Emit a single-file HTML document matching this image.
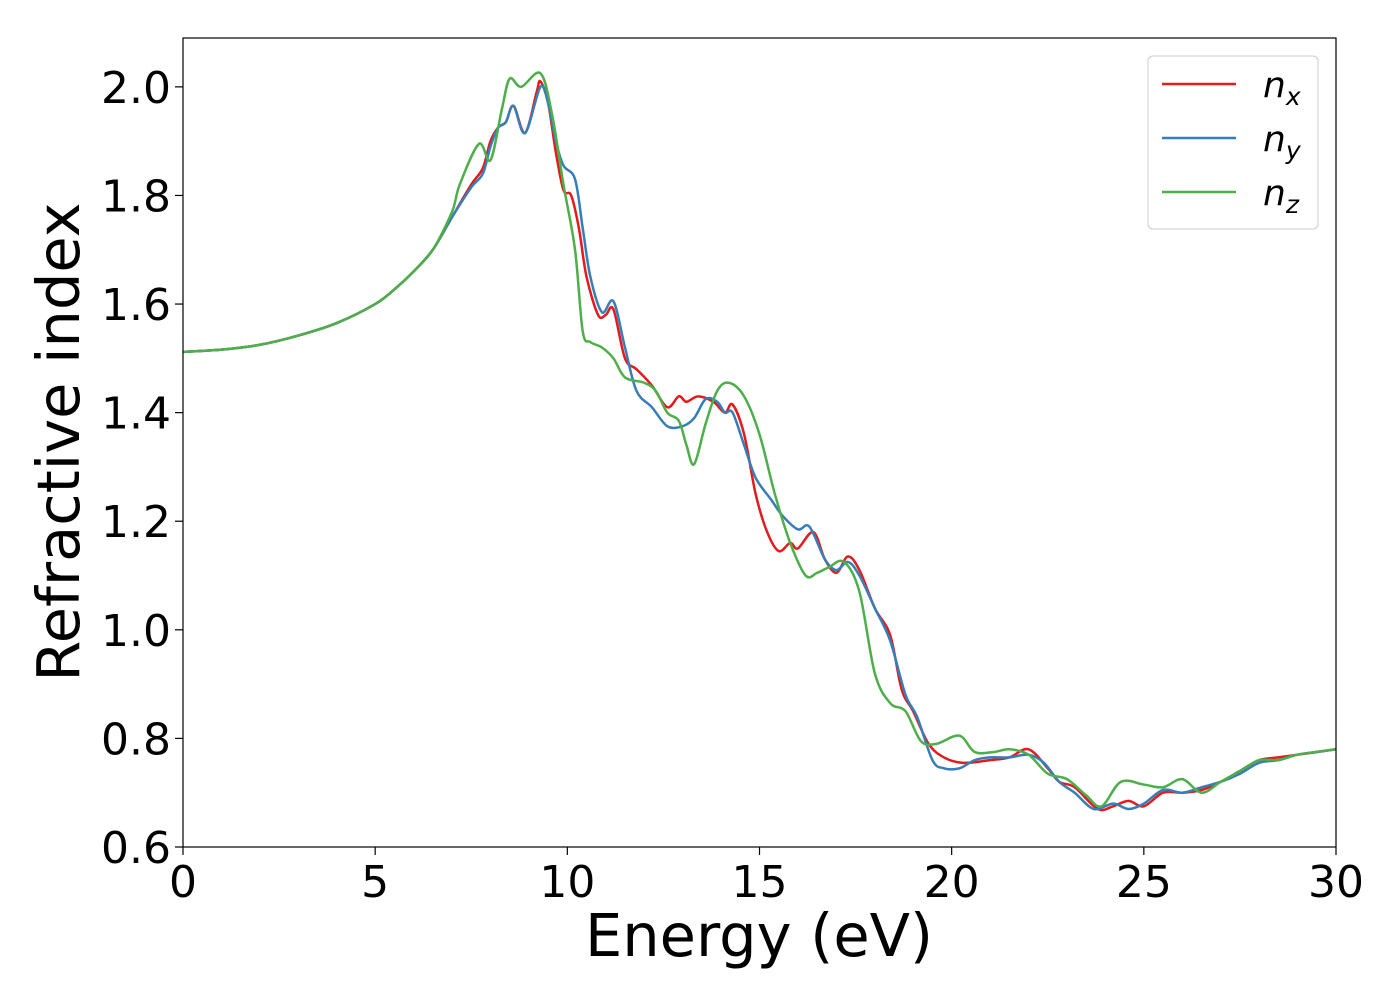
<!DOCTYPE html>
<html><head><meta charset="utf-8"><style>
body{margin:0;background:#fff}
svg text{font-family:"DejaVu Sans","Liberation Sans",sans-serif}
</style></head><body>
<svg id="chart" width="1400" height="1000" viewBox="0 0 1400 1000">
<rect width="1400" height="1000" fill="#fff"/>
<g id="series"></g>
<g id="axes"></g>
<rect x="183" y="38" width="1153" height="809" fill="none" stroke="#000" stroke-width="1.2"/>
<text x="759" y="956" font-size="59" text-anchor="middle">Energy (eV)</text>
<text transform="translate(79,442) rotate(-90)" font-size="59" text-anchor="middle">Refractive index</text>
<g>
<rect x="1148" y="56" width="170" height="173" rx="5" fill="#fff" stroke="#ccc" stroke-width="1"/>
<line x1="1162" y1="84" x2="1236" y2="84" stroke="#e41a1c" stroke-width="2.5"/>
<text x="1263" y="97" font-size="36" font-style="italic">n<tspan font-size="25" dy="8">x</tspan></text>
<line x1="1162" y1="138" x2="1236" y2="138" stroke="#377eb8" stroke-width="2.5"/>
<text x="1263" y="151" font-size="36" font-style="italic">n<tspan font-size="25" dy="8">y</tspan></text>
<line x1="1162" y1="192" x2="1236" y2="192" stroke="#4daf4a" stroke-width="2.5"/>
<text x="1263" y="205" font-size="36" font-style="italic">n<tspan font-size="25" dy="8">z</tspan></text>
</g>
</svg>
<script>
const xTicks=[0,5,10,15,20,25,30];
const yTicks=[0.6,0.8,1.0,1.2,1.4,1.6,1.8,2.0];
const nxE=[0,1,2,3,4,5,5.5,6,6.5,7,7.5,7.8,8.0,8.2,8.4,8.6,8.9,9.2,9.3,9.5,9.7,9.9,10.1,10.3,10.5,10.8,11.0,11.2,11.5,11.8,12.2,12.6,12.9,13.1,13.4,13.8,14.1,14.3,14.6,14.9,15.2,15.5,15.8,16.0,16.4,16.7,17.0,17.3,17.6,18.0,18.4,18.7,19.0,19.4,19.8,20.3,21,21.5,22,22.5,22.8,23.2,23.8,24.2,24.6,25.0,25.5,26.0,26.5,27,27.5,28,28.5,29,29.5,30];
const nxV=[1.512,1.516,1.525,1.542,1.565,1.60,1.627,1.66,1.70,1.76,1.82,1.85,1.90,1.925,1.935,1.965,1.915,1.99,2.01,1.97,1.88,1.81,1.80,1.74,1.65,1.58,1.58,1.59,1.50,1.48,1.45,1.41,1.43,1.42,1.43,1.42,1.40,1.415,1.36,1.25,1.18,1.145,1.16,1.15,1.18,1.13,1.105,1.135,1.11,1.04,0.99,0.89,0.85,0.79,0.765,0.755,0.76,0.765,0.78,0.745,0.72,0.71,0.67,0.675,0.685,0.675,0.70,0.70,0.705,0.72,0.74,0.76,0.765,0.77,0.775,0.78];
const nyE=[0,1,2,3,4,5,5.5,6,6.5,7,7.5,7.8,8.0,8.2,8.4,8.6,8.9,9.3,9.5,9.7,9.9,10.2,10.4,10.6,10.9,11.2,11.5,11.8,12.2,12.6,13.0,13.3,13.6,13.9,14.1,14.3,14.6,14.9,15.3,15.6,16.0,16.3,16.7,17.0,17.3,17.6,18.0,18.4,18.8,19.1,19.5,19.8,20.2,20.6,21,21.5,22,22.4,22.8,23.2,23.7,24.2,24.6,25,25.5,26,26.5,27,27.5,28,28.5,29,29.5,30];
const nyV=[1.512,1.516,1.525,1.542,1.565,1.60,1.627,1.66,1.70,1.76,1.815,1.84,1.89,1.925,1.935,1.965,1.915,2.0,1.97,1.90,1.855,1.83,1.74,1.65,1.585,1.605,1.52,1.44,1.41,1.375,1.375,1.39,1.425,1.42,1.40,1.40,1.34,1.28,1.24,1.21,1.185,1.19,1.13,1.11,1.125,1.10,1.04,0.98,0.88,0.84,0.76,0.745,0.745,0.76,0.765,0.765,0.77,0.755,0.72,0.70,0.67,0.68,0.67,0.68,0.705,0.70,0.71,0.72,0.735,0.755,0.76,0.77,0.775,0.78];
const nzE=[0,1,2,3,4,5,5.5,6,6.5,7,7.2,7.7,8.0,8.3,8.5,8.8,9.3,9.6,9.9,10.2,10.4,10.6,10.9,11.2,11.5,12.0,12.3,12.6,12.9,13.1,13.3,13.6,13.9,14.2,14.6,15.0,15.4,15.8,16.2,16.5,16.8,17.2,17.6,18.0,18.4,18.8,19.2,19.6,20.2,20.6,21.1,21.5,22.0,22.5,23.0,23.5,23.9,24.4,25.0,25.5,26.0,26.5,27,27.5,28,28.5,29,30];
const nzV=[1.512,1.516,1.525,1.542,1.565,1.60,1.627,1.66,1.70,1.77,1.82,1.895,1.865,1.96,2.015,2.0,2.025,1.95,1.82,1.70,1.55,1.53,1.52,1.50,1.465,1.455,1.44,1.40,1.385,1.34,1.305,1.38,1.44,1.455,1.43,1.36,1.25,1.16,1.10,1.105,1.115,1.125,1.07,0.92,0.865,0.85,0.795,0.79,0.805,0.775,0.775,0.78,0.77,0.735,0.725,0.695,0.675,0.72,0.715,0.71,0.725,0.70,0.72,0.74,0.76,0.76,0.77,0.78];
const X0=183,X1=1336,Y0=847,Y1=38,xmin=0,xmax=30,ymin=0.6,ymax=2.09;
const sx=v=>X0+(v-xmin)/(xmax-xmin)*(X1-X0);
const sy=v=>Y0-(v-ymin)/(ymax-ymin)*(Y0-Y1);
const NS='http://www.w3.org/2000/svg';
const axes=document.getElementById('axes'),series=document.getElementById('series');
function mk(tag,attrs,parent){const e=document.createElementNS(NS,tag);for(const k in attrs)e.setAttribute(k,attrs[k]);parent.appendChild(e);return e;}
xTicks.forEach(t=>{
  const l=mk('line',{x1:sx(t),x2:sx(t),y1:Y0,y2:Y0+8,stroke:'#000','stroke-width':1.2},axes);
  
  
  const tx=mk('text',{x:sx(t),y:Y0+50,'font-size':44,'text-anchor':'middle'},axes);
  tx.textContent=t;
  
  
});
yTicks.forEach(t=>{
  const l=mk('line',{x1:X0-8,x2:X0,y1:sy(t),y2:sy(t),stroke:'#000','stroke-width':1.2},axes);
  
  
  const tx=mk('text',{x:X0-12,y:sy(t)+16,'font-size':44,'text-anchor':'end'},axes);
  tx.textContent=t.toFixed(1);
  
  
});
function pathFor(E,V){
  const p=E.map((e,i)=>[sx(e),sy(V[i])]);
  let d='M'+p[0][0]+','+p[0][1];
  for(let i=0;i<p.length-1;i++){
    const a=p[i-1]||p[i],b=p[i],c=p[i+1],e=p[i+2]||c;
    const c1x=b[0]+(c[0]-a[0])/6,c1y=b[1]+(c[1]-a[1])/6;
    const c2x=c[0]-(e[0]-b[0])/6,c2y=c[1]-(e[1]-b[1])/6;
    d+=' C'+c1x+','+c1y+' '+c2x+','+c2y+' '+c[0]+','+c[1];
  }
  return d;
}
[[nxE,nxV,'#e41a1c','series-nx'],[nyE,nyV,'#377eb8','series-ny'],[nzE,nzV,'#4daf4a','series-nz']].forEach(s=>{
  const p=mk('path',{d:pathFor(s[0],s[1]),fill:'none',stroke:s[2],'stroke-width':2.5,'stroke-linejoin':'round'},series);
  
  
});
</script>
</body></html>
